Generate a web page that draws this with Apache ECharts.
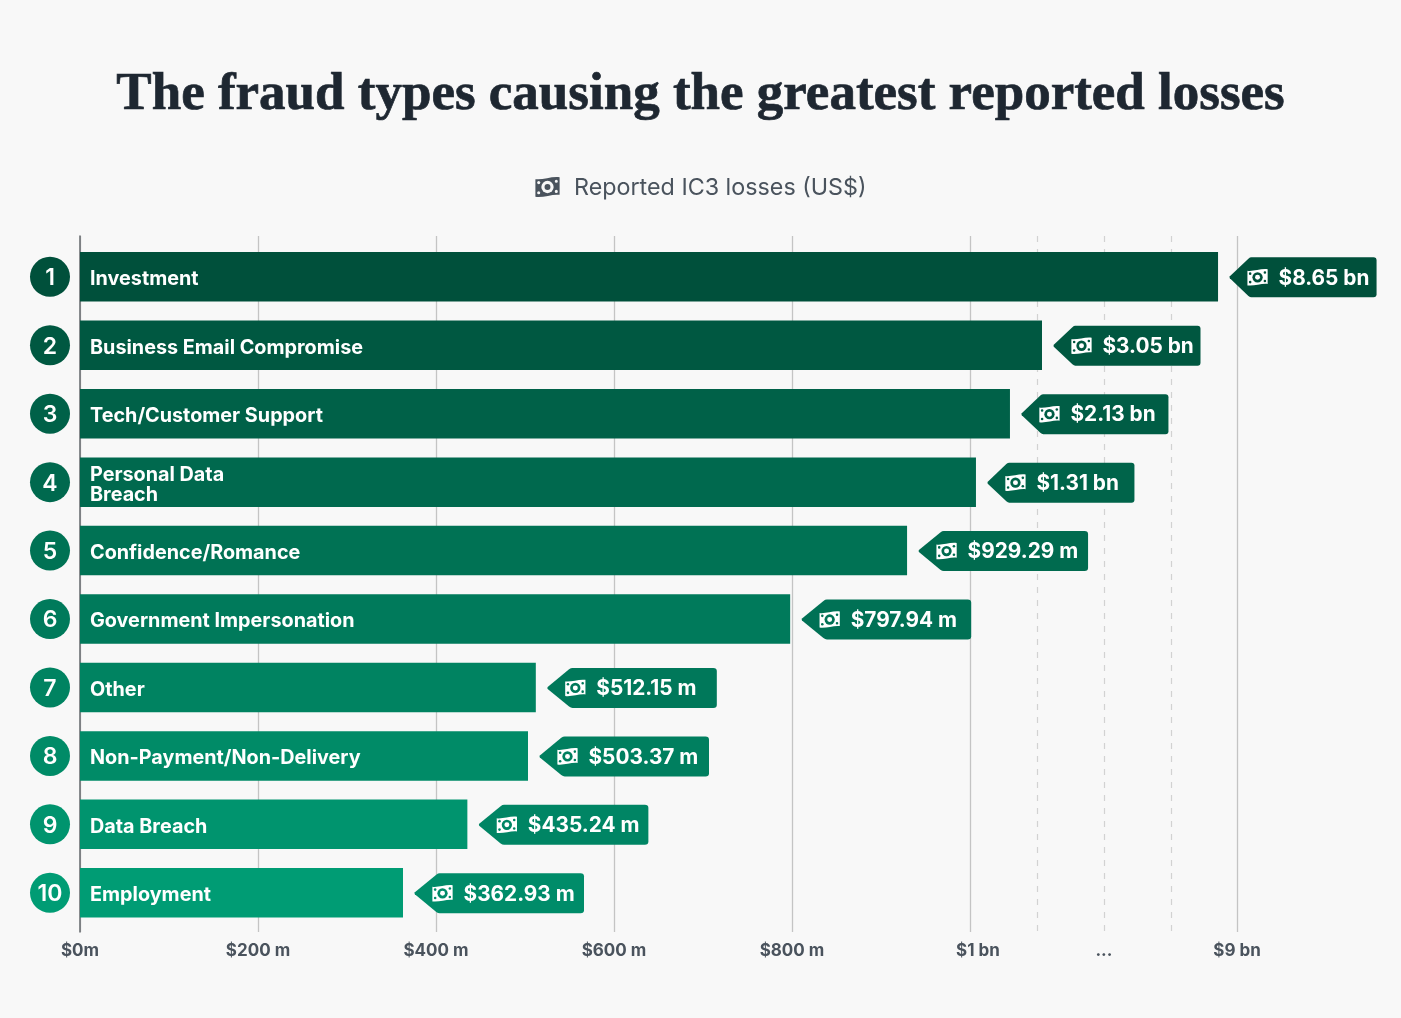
<!DOCTYPE html>
<html><head><meta charset="utf-8">
<style>html,body{margin:0;padding:0;background:#f8f8f8}#c{width:1401px;height:1018px}</style>
<script src="https://cdn.jsdelivr.net/npm/echarts@6/dist/echarts.min.js"></script>
</head><body><div id="c"></div>
<script>
const fraudTypes = ['Investment','Business Email Compromise','Tech/Customer Support','Personal Data\nBreach','Confidence/Romance','Government Impersonation','Other','Non-Payment/Non-Delivery','Data Breach','Employment'];
const lossesMillions = [8650,3050,2130,1310,929.29,797.94,512.15,503.37,435.24,362.93];
const lossLabels = ['$8.65 bn','$3.05 bn','$2.13 bn','$1.31 bn','$929.29 m','$797.94 m','$512.15 m','$503.37 m','$435.24 m','$362.93 m'];
const tickValues = [0,200,400,600,800,1000,9000];
const tickLabels = ['$0m','$200 m','$400 m','$600 m','$800 m','$1 bn','$9 bn'];
const dashedTicks = [2900,5020,7150];
// The reference's x axis is broken above $1 bn: each stretch is compressed.
const axisBreaks = [
  {start:1000,end:1310,gap:6.7},{start:1310,end:2130,gap:38.2},{start:2130,end:3050,gap:36},
  {start:3050,end:8650,gap:197.8},{start:8650,end:9000,gap:21.3}
];

const FONT='Inter';
const BILL='M-11,-6.5 C-5,-5.5 4,-9 11,-8 L11,6.5 C5,5.5 -4,9 -11,8 Z';
const mix=(a,b,t)=>'rgb('+a.map((c,i)=>Math.round(c+(b[i]-c)*t)).join(',')+')';
const barShade=i=>mix([0,80,59],[0,156,116],i/9);
const tagShade=i=>mix([0,80,59],[0,140,105],i/9);

function billIcon(cx,cy,scale,fg,bg){
  const w=22*scale,h=18*scale;
  const s=scale, kids=[
    {type:'path',shape:{pathData:BILL,x:cx-w/2,y:cy-h/2,width:w,height:h,layout:'cover'},style:{fill:fg}},
    {type:'circle',shape:{cx:cx,cy:cy,r:5.6*s},style:{fill:bg}},
    {type:'circle',shape:{cx:cx,cy:cy,r:2.7*s},style:{fill:fg}}
  ];
  [[-8,-4],[8,-5.2],[-8,5.2],[8,4]].forEach(p=>kids.push({type:'circle',shape:{cx:cx+p[0]*s,cy:cy+p[1]*s,r:1.4*s},style:{fill:bg}}));
  return kids;
}
const TAG='M0.6,19 L19,1.4 Q20.5,0 22,0 L143,0 Q146,0 146,3 L146,37 Q146,40 143,40 L22,40 Q20.5,40 19,38.6 L0.6,21 Q0,20 0.6,19 Z';

const baseX={type:'value',min:0,max:9000,breaks:axisBreaks,breakArea:{show:false},axisLine:{show:false},axisTick:{show:false}};
const option={
  backgroundColor:'#f8f8f8',
  animation:false,
  title:{text:'The fraud types causing the greatest reported losses',left:'center',top:64,
    textStyle:{fontFamily:'Liberation Serif',fontWeight:'bold',fontSize:53,color:'#1e2731',textBorderColor:'#1e2731',textBorderWidth:0.7}},
  grid:[
    {left:80,width:1157,top:236,height:696},
    {left:80,width:1157,top:242.6,height:684.4}
  ],
  xAxis:[
    Object.assign({},baseX,{gridIndex:0,position:'bottom',
      axisTick:{show:false,customValues:tickValues},
      splitLine:{show:true,lineStyle:{color:'#c4c4c4',width:1.3}},
      axisLabel:{show:true,customValues:tickValues,margin:10,color:'#4a535d',fontFamily:FONT,fontWeight:700,fontSize:17,
        hideOverlap:false,showMinLabel:true,showMaxLabel:true,
        formatter:v=>{const t=tickLabels[tickValues.indexOf(v)];return v===1000?'{a|'+t+'}':t;},
        rich:{a:{padding:[0,0,0,16],color:'#4a535d',fontFamily:FONT,fontWeight:700,fontSize:17}}}}),
    Object.assign({},baseX,{gridIndex:0,position:'bottom',
      axisTick:{show:false,customValues:dashedTicks},
      splitLine:{show:true,lineStyle:{color:'#d2d2d2',width:1.2,type:[6,7]}},
      axisLabel:{show:true,customValues:[dashedTicks[1]],margin:10,color:'#4a535d',fontFamily:FONT,fontWeight:700,fontSize:17,formatter:()=>'...'}}),
    Object.assign({},baseX,{gridIndex:1,splitLine:{show:false},axisLabel:{show:false}})
  ],
  yAxis:[
    {gridIndex:0,type:'category',data:fraudTypes,inverse:true,axisLine:{show:true,lineStyle:{color:'#666a6e',width:1.5}},axisTick:{show:false},axisLabel:{show:false},splitLine:{show:false}},
    {gridIndex:1,type:'category',data:fraudTypes,inverse:true,axisLine:{show:false},axisTick:{show:false},axisLabel:{show:false},splitLine:{show:false}}
  ],
  graphic:[
    {type:'text',left:574,top:176.5,style:{text:'Reported IC3 losses (US$)',fontFamily:FONT,fontSize:23.3,fill:'#4a535d'}}
  ],
  series:[
    {type:'custom',coordinateSystem:'none',data:[0],silent:true,
      renderItem:()=>({type:'group',children:billIcon(547.5,187,1.1,'#4a535d','#f8f8f8')})},
    {type:'bar',xAxisIndex:2,yAxisIndex:1,barWidth:49.5,z:3,
      data:lossesMillions.map((v,i)=>({value:v,itemStyle:{color:barShade(i)}})),
      label:{show:true,position:'insideLeft',distance:10,offset:[0,2.5],formatter:p=>fraudTypes[p.dataIndex],
        color:'#fff',fontFamily:FONT,fontWeight:700,fontSize:19.8,lineHeight:20}},
    {type:'custom',xAxisIndex:2,yAxisIndex:1,z:4,clip:false,
      data:lossesMillions.map((v,i)=>[v,i]),
      encode:{x:0,y:1},
      renderItem:(params,api)=>{
        const i=params.dataIndex;
        const end=api.coord([api.value(0),i]);
        const zero=api.coord([0,i]);
        const cy=end[1]+0.5, tip=end[0]+11.5;
        const w=lossLabels[i].endsWith('bn')?147:169.5;
        const col=tagShade(i);
        const rowY=end[1];
        return {type:'group',children:[
          {type:'path',shape:{pathData:TAG,x:tip,y:cy-20,width:w,height:40,layout:'cover'},style:{fill:col}},
          ...billIcon(tip+28,cy,0.92,'#fff',col),
          {type:'text',x:tip+49,y:cy+1,style:{text:lossLabels[i],fill:'#fff',fontFamily:FONT,fontWeight:700,fontSize:20.8,verticalAlign:'middle',textAlign:'left'}},
          {type:'circle',shape:{cx:zero[0]-30,cy:rowY,r:20},style:{fill:barShade(i)}},
          {type:'text',x:zero[0]-30,y:rowY+1.5,style:{text:String(i+1),fill:'#fff',fontFamily:FONT,fontWeight:600,fontSize:23,verticalAlign:'middle',textAlign:'center'}}
        ]};
      }}
  ]
};
const chart=echarts.init(document.getElementById('c'),null,{renderer:'canvas'});
chart.setOption(option);
</script></body></html>
